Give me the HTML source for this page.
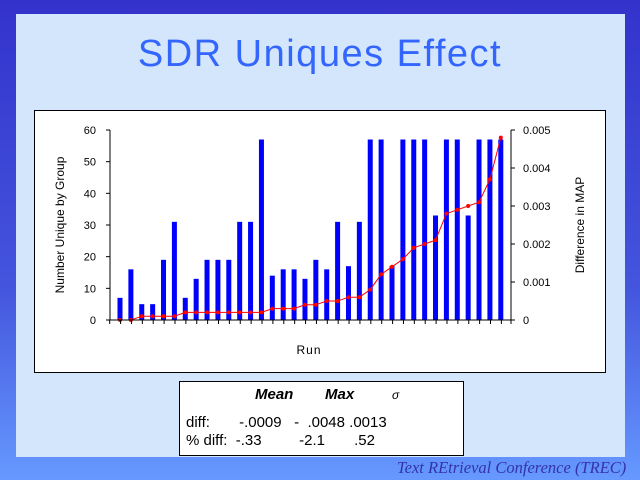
<!DOCTYPE html>
<html><head><meta charset="utf-8"><style>
html,body{margin:0;padding:0;width:640px;height:480px;overflow:hidden}
body{background:linear-gradient(#3333cc 0%,#4455dd 60%,#6699ff 100%);position:relative;font-family:"Liberation Sans",sans-serif}
#inner{position:absolute;left:16px;top:14px;width:609px;height:443px;background:#d4e6fb}
#title{position:absolute;left:0;width:640px;top:33px;text-align:center;font-size:38px;color:#3366ff;letter-spacing:1.5px}
#chart{position:absolute;left:34px;top:110px;width:570px;height:261px;background:#fff;border:1px solid #000}
#tbl{position:absolute;left:179px;top:381px;width:283px;height:73px;background:#fff;border:1px solid #000;font-size:15px}
#tbl div{position:absolute;white-space:pre}
#foot{position:absolute;left:397px;top:458px;font-family:"Liberation Serif",serif;font-style:italic;color:#3333aa;font-size:16.5px}
</style></head><body>
<div id="inner"></div>
<div id="title">SDR Uniques Effect</div>
<div id="chart"></div>
<svg id="s" width="640" height="480" style="position:absolute;left:0;top:0"></svg>
<div id="tbl">
<div style="left:75px;top:4px;font-style:italic;font-weight:bold">Mean</div>
<div style="left:145px;top:4px;font-style:italic;font-weight:bold">Max</div>
<div style="left:212px;top:6px;font-style:italic;font-size:12px">σ</div>
<div style="left:6px;top:32px">diff:       -.0009   -  .0048 .0013</div>
<div style="left:6px;top:50px">% diff:  -.33         -2.1       .52</div>
</div>
<div id="foot">Text REtrieval Conference (TREC)</div>
<script>
var b=[7,16,5,5,19,31,7,13,19,19,19,31,31,57,14,16,16,13,19,16,31,17,31,57,57,17,57,57,57,33,57,57,33,57,57,57];
var m=[0,0,1,1,1,1,2,2,2,2,2,2,2,2,3,3,3,4,4,5,5,6,6,8,12,14,16,19,20,21,28,29,30,31,37,48];
var h='',y0=320,sp=10.88;
for(var i=0;i<36;i++){var x=120+i*sp,y=y0-b[i]*190/60;h+='<rect x="'+(x-2.5)+'" y="'+y+'" width="5" height="'+(y0-y)+'" fill="#0000ff"/>';}
var pts=[];for(i=0;i<36;i++){pts.push((120+i*sp)+','+(y0-m[i]*3.8));}
h+='<polyline points="'+pts.join(' ')+'" fill="none" stroke="#ff0000" stroke-width="1"/>';
for(i=0;i<36;i++){var p=pts[i].split(',');h+='<circle cx="'+p[0]+'" cy="'+p[1]+'" r="2" fill="#ff0000"/>';}
h+='<line x1="110" y1="130" x2="110" y2="320" stroke="#000"/><line x1="511" y1="130" x2="511" y2="320" stroke="#000"/><line x1="110" y1="320" x2="511" y2="320" stroke="#000"/>';
for(i=0;i<=6;i++){var y=320-i*190/6;h+='<line x1="106" y1="'+y+'" x2="110" y2="'+y+'" stroke="#000"/><text x="96" y="'+(y+4)+'" font-size="11" text-anchor="end" font-family="Liberation Sans">'+(i*10)+'</text>';}
for(i=0;i<=5;i++){var y=320-i*38;h+='<line x1="511" y1="'+y+'" x2="515" y2="'+y+'" stroke="#000"/><text x="523" y="'+(y+4)+'" font-size="11" font-family="Liberation Sans">'+(i?('0.00'+i):'0')+'</text>';}
for(i=0;i<=37;i++){var x=110+i*sp-0.3;if(x>511)x=511;h+='<line x1="'+x+'" y1="320" x2="'+x+'" y2="324" stroke="#000"/>';}
h+='<text x="309" y="354" font-size="12" text-anchor="middle" font-family="Liberation Sans" letter-spacing="1">Run</text>';
h+='<text transform="translate(64,225) rotate(-90)" font-size="12" text-anchor="middle" font-family="Liberation Sans">Number Unique by Group</text>';
h+='<text transform="translate(584,225) rotate(-90)" font-size="12" text-anchor="middle" font-family="Liberation Sans">Difference in MAP</text>';
document.getElementById('s').innerHTML=h;
</script>
</body></html>
